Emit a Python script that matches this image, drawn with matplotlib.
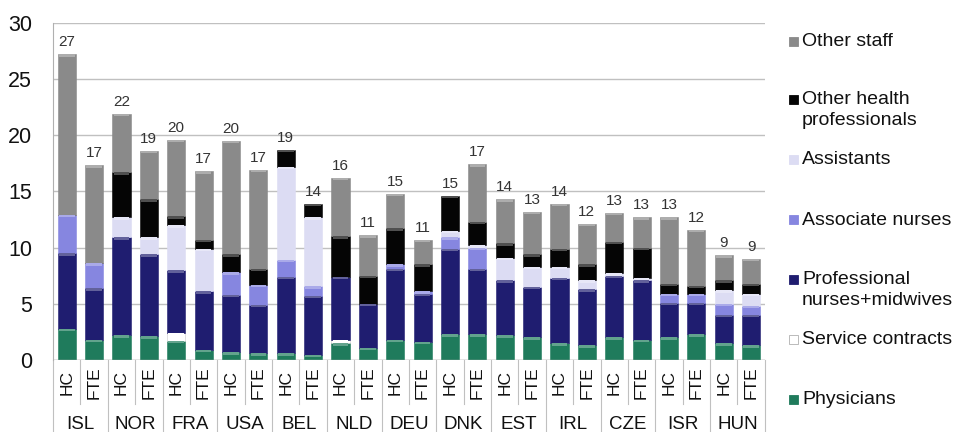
import numpy as np
import matplotlib
matplotlib.use("Agg")
import matplotlib.pyplot as plt
from matplotlib.patches import Rectangle
from matplotlib.colors import to_rgb
from matplotlib.transforms import blended_transform_factory

plt.rcParams["font.family"] = ["Liberation Sans", "DejaVu Sans"]

countries = ["ISL", "NOR", "FRA", "USA", "BEL", "NLD", "DEU",
             "DNK", "EST", "IRL", "CZE", "ISR", "HUN"]
measures = ["HC", "FTE"]

# staff per category, HC and FTE alternating for each country
physicians = [2.8, 1.8, 2.2, 2.1, 1.7, 0.9, 0.7, 0.6, 0.6, 0.45, 1.5, 1.1, 1.8,
              1.6, 2.3, 2.3, 2.2, 2.0, 1.5, 1.3, 2.0, 1.8, 2.0, 2.3, 1.5, 1.3]
service_contracts = [0, 0, 0, 0, 0.7, 0, 0, 0, 0, 0, 0.3, 0, 0,
                     0, 0, 0, 0, 0, 0, 0, 0, 0, 0, 0, 0, 0]
prof_nurses = [6.7, 4.6, 8.7, 7.3, 5.6, 5.2, 5.1, 4.3, 6.8, 5.25, 5.6, 3.9, 6.3,
               4.3, 7.6, 5.8, 4.9, 4.5, 5.8, 5.0, 5.5, 5.3, 3.1, 2.8, 2.5, 2.7]
assoc_nurses = [3.4, 2.2, 0, 0, 0, 0, 2.0, 1.8, 1.5, 0.85, 0, 0, 0.4,
                0.2, 1.0, 1.9, 0, 0, 0, 0, 0, 0, 0.8, 0.8, 1.0, 0.8]
assistants = [0, 0, 1.8, 1.5, 4.0, 3.8, 0, 0, 8.3, 6.15, 0, 0, 0,
              0, 0.6, 0.2, 2.0, 1.8, 1.0, 0.8, 0.2, 0.2, 0, 0, 1.2, 1.1]
other_health = [0, 0, 4.0, 3.4, 0.8, 0.8, 1.6, 1.4, 1.5, 1.2, 3.6, 2.5, 3.2,
                2.4, 3.1, 2.1, 1.3, 1.1, 1.6, 1.4, 2.8, 2.7, 0.9, 0.7, 0.9, 0.9]
other_staff = [14.3, 8.7, 5.2, 4.3, 6.8, 6.1, 10.1, 8.8, 0, 0, 5.2, 3.6, 3.1,
               2.2, 0, 5.1, 3.9, 3.8, 4.0, 3.6, 2.6, 2.7, 5.9, 5.0, 2.2, 2.2]

series = [
    ("Physicians", physicians, "#1f7b5c"),
    ("Service contracts", service_contracts, "#ffffff"),
    ("Professional\nnurses+midwives", prof_nurses, "#1f1d70"),
    ("Associate nurses", assoc_nurses, "#8686e0"),
    ("Assistants", assistants, "#dcdcf3"),
    ("Other health\nprofessionals", other_health, "#050505"),
    ("Other staff", other_staff, "#8a8a8a"),
]


def lighten(color, f):
    r, g, b = to_rgb(color)
    return (r + (1 - r) * f, g + (1 - g) * f, b + (1 - b) * f)


fig = plt.figure(figsize=(9.56, 4.32), dpi=100)
ax = fig.add_axes([0.0555, 0.1667, 0.7445, 0.7808])

x = np.arange(len(physicians))
width = 0.66
bottom = np.zeros(len(x))
for name, vals, color in series:
    vals = np.array(vals, dtype=float)
    ax.bar(x, vals, width, bottom=bottom, color=color,
           edgecolor="#c8c8c8" if color == "#ffffff" else color,
           linewidth=0.4, zorder=3)
    # glossy cap at the top of each segment
    cap = np.minimum(vals, 0.22)
    ax.bar(x, cap, width * 0.86, bottom=bottom + vals - cap,
           color=lighten(color, 0.3), linewidth=0, zorder=4)
    bottom += vals

# total labels above each bar
for xi, tot in zip(x, bottom):
    ax.text(xi, tot + 0.45, f"{round(tot):d}", ha="center", va="bottom",
            fontsize=11, color="#333333")

ax.set_xlim(-0.5, len(x) - 0.5)
ax.set_ylim(0, 30)
ax.set_yticks(range(0, 31, 5))
ax.tick_params(axis="y", labelsize=15.5, length=0, pad=15, labelcolor="#111111")
ax.set_xticks([])
ax.grid(axis="y", color="#c0c0c0", linewidth=1, zorder=0)
for side in ["top", "right", "bottom"]:
    ax.spines[side].set_visible(False)
ax.spines["left"].set_color("#b0b0b0")
ax.axhline(0, color="#b0b0b0", linewidth=1, zorder=5)

# two-level category axis
trans = blended_transform_factory(ax.transData, ax.transAxes)
for i in range(len(x)):
    ax.text(i, -0.068, measures[i % 2], rotation=90, ha="center", va="center",
            fontsize=12.5, transform=trans, color="#111111")
for j, c in enumerate(countries):
    ax.text(2 * j + 0.5, -0.19, c, ha="center", va="center",
            fontsize=13.5, transform=trans, color="#111111")
for j in range(len(countries)):
    ax.plot([2 * j + 0.5, 2 * j + 0.5], [0, -0.13], color="#c0c0c0",
            linewidth=0.8, transform=trans, clip_on=False)
for j in range(len(countries) + 1):
    ax.plot([2 * j - 0.5, 2 * j - 0.5], [0, -0.22], color="#c0c0c0",
            linewidth=0.8, transform=trans, clip_on=False)

# legend on the right, top entry first
W, H = 956, 432
legend_rows = [
    ("Other staff", "#8a8a8a", 42),
    ("Other health\nprofessionals", "#050505", 110),
    ("Assistants", "#dcdcf3", 160),
    ("Associate nurses", "#8686e0", 220),
    ("Professional\nnurses+midwives", "#1f1d70", 290),
    ("Service contracts", "#ffffff", 340),
    ("Physicians", "#1f7b5c", 400),
]
for label, color, yc in legend_rows:
    nlines = label.count("\n") + 1
    ymark = yc - (nlines - 1) * 10
    fig.patches.append(Rectangle((789 / W, 1 - (ymark + 4) / H), 9 / W, 9 / H,
                                 transform=fig.transFigure, facecolor=color,
                                 edgecolor="#b0b0b0" if color == "#ffffff" else color,
                                 linewidth=0.6))
    fig.text(802 / W, 1 - yc / H, label, ha="left", va="center",
             fontsize=14, color="#111111", linespacing=1.25)

fig.savefig("out.png", dpi=100)
